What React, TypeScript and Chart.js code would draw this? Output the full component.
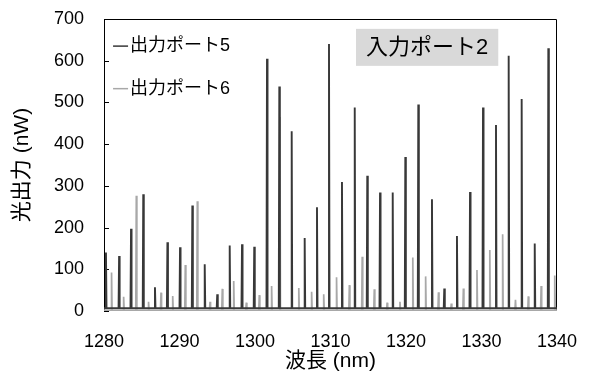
import { useEffect, useRef } from "react";
import { Chart, registerables } from "chart.js";

Chart.register(...registerables);

// ---- data ----
const xTickValues = [1280, 1290, 1300, 1310, 1320, 1330, 1340];
const yTickValues = [0, 100, 200, 300, 400, 500, 600, 700];

const port5Label = "出力ポート5";
const port6Label = "出力ポート6";
const inputLabel = "入力ポート2";

// Output port 5 (dark) peak wavelengths (nm) and powers (nW)
const port5PeakNm = [
  1280.26, 1282.0, 1283.58, 1285.2, 1286.75, 1288.4, 1290.07, 1291.7, 1293.34, 1295.0,
  1296.65, 1298.28, 1299.9, 1301.59, 1303.22, 1304.86, 1306.58, 1308.21, 1309.8, 1311.52,
  1313.21, 1314.87, 1316.56, 1318.24, 1319.91, 1321.63, 1323.44, 1325.07, 1326.75, 1328.48,
  1330.2, 1331.92, 1333.6, 1335.32, 1337.05, 1338.85,
];
const port5PeakNW = [
  140, 132, 197, 280, 57, 165, 153, 253, 112, 40,
  157, 160, 154, 605, 538, 431, 175, 249, 640, 309,
  488, 324, 284, 284, 369, 495, 268, 54, 180, 285,
  488, 446, 612, 508, 162, 630,
];
const port5BaseNW = 7;

// Output port 6 (light) peak wavelengths (nm) and powers (nW)
const port6PeakNm = [
  1281.0, 1282.6, 1284.28, 1285.9, 1287.55, 1289.1, 1290.77, 1292.36, 1294.04, 1295.67,
  1297.18, 1298.85, 1300.57, 1302.2, 1303.3, 1305.8, 1307.5, 1309.1, 1310.8, 1312.5,
  1314.2, 1315.8, 1317.5, 1319.2, 1320.9, 1322.6, 1324.3, 1326.0, 1327.6, 1329.4,
  1331.1, 1332.8, 1334.5, 1336.2, 1337.9, 1339.7,
];
const port6PeakNW = [
  92, 34, 276, 22, 44, 36, 110, 263, 22, 53,
  72, 20, 38, 60, 465, 55, 46, 40, 81, 62,
  130, 52, 20, 22, 128, 83, 45, 18, 54, 98,
  146, 184, 27, 35, 60, 85,
];
const port6BaseNW = 2;

const X_MIN = 1280;
const X_MAX = 1340;
const PEAK_HALF_WIDTH = 0.07;

function buildSeries(nm: number[], nw: number[], base: number) {
  const pts: { x: number; y: number }[] = [{ x: X_MIN, y: base }];
  nm.forEach((c, i) => {
    pts.push({ x: c - PEAK_HALF_WIDTH, y: base });
    pts.push({ x: c, y: nw[i] });
    pts.push({ x: c + PEAK_HALF_WIDTH, y: base });
  });
  pts.push({ x: X_MAX, y: base });
  return pts;
}

const DARK = "#383838";
const LIGHT = "#a8a8a8";
const FONT = "'Liberation Sans', 'Noto Sans CJK JP', sans-serif";

const decorPlugin = {
  id: "decor",
  beforeDatasetsDraw(chart: any) {
    const { ctx, chartArea } = chart;
    const { left, right, top, bottom } = chartArea;
    ctx.save();
    ctx.strokeStyle = "#000";
    ctx.lineWidth = 1;
    ctx.beginPath();
    ctx.moveTo(left + 0.5, top + 0.5);
    ctx.lineTo(right - 0.5, top + 0.5);
    ctx.lineTo(right - 0.5, bottom - 0.5);
    ctx.moveTo(left + 0.5, top + 0.5);
    ctx.lineTo(left + 0.5, bottom);
    ctx.stroke();
    ctx.strokeStyle = "#888";
    ctx.beginPath();
    ctx.moveTo(left, bottom - 0.5);
    ctx.lineTo(right, bottom - 0.5);
    ctx.stroke();
    // inward tick marks on the y axis
    const y = chart.scales.y;
    ctx.strokeStyle = "#000";
    ctx.beginPath();
    y.ticks.forEach((t: any) => {
      const py = Math.round(y.getPixelForValue(t.value)) + 0.5;
      ctx.moveTo(left, py);
      ctx.lineTo(left + 5, py);
    });
    ctx.stroke();
    ctx.restore();
  },
  afterDraw(chart: any) {
    const { ctx } = chart;
    const x = chart.scales.x;
    const y = chart.scales.y;
    ctx.save();
    // legend (inside plot, top-left)
    const ds = chart.data.datasets;
    const legendX = x.getPixelForValue(1281.2);
    const legendRows = [635, 533];
    ds.forEach((d: any, i: number) => {
      const py = y.getPixelForValue(legendRows[i]);
      ctx.strokeStyle = d.borderColor;
      ctx.lineWidth = 1.5;
      ctx.beginPath();
      ctx.moveTo(legendX, py);
      ctx.lineTo(legendX + 15, py);
      ctx.stroke();
      ctx.fillStyle = "#000";
      ctx.font = `18px ${FONT}`;
      ctx.textBaseline = "middle";
      ctx.textAlign = "left";
      ctx.fillText(d.label, legendX + 17, py);
    });
    // input port label box
    ctx.font = `22px ${FONT}`;
    const tw = ctx.measureText(inputLabel).width;
    const cx = x.getPixelForValue(1322.8);
    const cy = y.getPixelForValue(632);
    const bw = tw + 20;
    const bh = 37;
    ctx.fillStyle = "#d9d9d9";
    ctx.fillRect(cx - bw / 2, cy - bh / 2, bw, bh);
    ctx.fillStyle = "#000";
    ctx.textAlign = "center";
    ctx.textBaseline = "middle";
    ctx.fillText(inputLabel, cx, cy + 1);
    ctx.restore();
  },
};

export default function App() {
  const ref = useRef<HTMLCanvasElement | null>(null);
  useEffect(() => {
    if (!ref.current) return;
    const chart = new Chart(ref.current, {
      type: "scatter",
      data: {
        datasets: [
          {
            label: port5Label,
            data: buildSeries(port5PeakNm, port5PeakNW, port5BaseNW),
            showLine: true,
            borderColor: DARK,
            backgroundColor: DARK,
            borderWidth: 1.9,
            pointRadius: 0,
            tension: 0,
          },
          {
            label: port6Label,
            data: buildSeries(port6PeakNm, port6PeakNW, port6BaseNW),
            showLine: true,
            borderColor: LIGHT,
            backgroundColor: LIGHT,
            borderWidth: 1.7,
            pointRadius: 0,
            tension: 0,
          },
        ],
      },
      options: {
        animation: false,
        responsive: false,
        layout: { padding: { left: 0, top: 19, right: 37, bottom: 0 } },
        plugins: {
          legend: { display: false },
          tooltip: { enabled: false },
        },
        scales: {
          x: {
            type: "linear",
            min: X_MIN,
            max: X_MAX,
            afterBuildTicks: (s: any) => {
              s.ticks = xTickValues.map((v) => ({ value: v }));
            },
            afterFit: (s: any) => {
              s.height = 67;
              s.paddingLeft = 0;
              s.paddingRight = 0;
            },
            grid: { display: false, drawTicks: false },
            border: { display: false },
            ticks: {
              color: "#000",
              padding: 20,
              maxRotation: 0,
              font: { family: FONT, size: 18 },
              callback: (v: any) => String(v),
            },
            title: {
              display: true,
              text: "波長 (nm)",
              color: "#000",
              font: { family: FONT, size: 21 },
              padding: { top: 0, bottom: 4 },
            },
          },
          y: {
            type: "linear",
            min: 0,
            max: 700,
            afterBuildTicks: (s: any) => {
              s.ticks = yTickValues.map((v) => ({ value: v }));
            },
            afterFit: (s: any) => {
              s.width = 104;
              s.paddingTop = 0;
              s.paddingBottom = 0;
            },
            grid: { display: false, drawTicks: false },
            border: { display: false },
            ticks: {
              color: "#000",
              padding: 20,
              font: { family: FONT, size: 18 },
              callback: (v: any) => String(v),
            },
            title: {
              display: true,
              text: "光出力 (nW)",
              color: "#000",
              font: { family: FONT, size: 21 },
              padding: { top: 10, bottom: 0 },
            },
          },
        },
      },
      plugins: [decorPlugin],
    });
    return () => chart.destroy();
  }, []);
  return (
    <div style={{ position: "fixed", left: 0, top: 0, width: 594, height: 378, background: "#fff" }}>
      <canvas ref={ref} width={594} height={378} style={{ display: "block" }} />
    </div>
  );
}
